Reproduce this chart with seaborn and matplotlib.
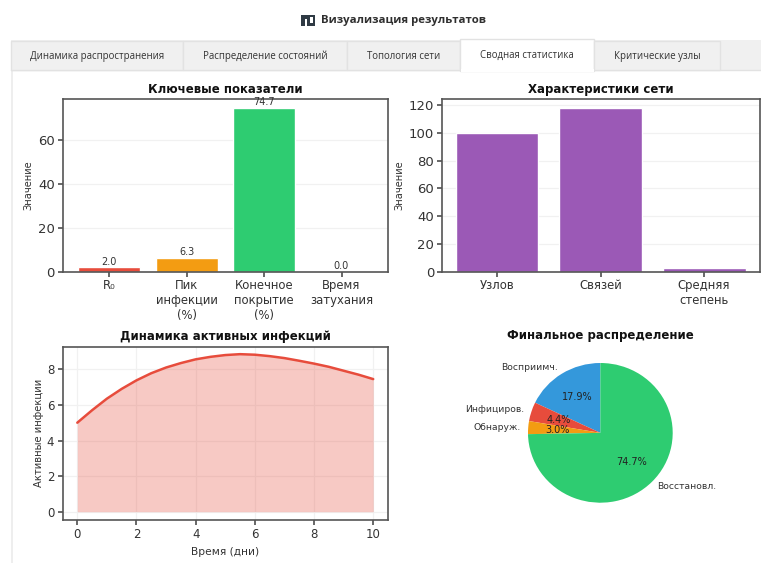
import matplotlib
matplotlib.use("Agg")
import matplotlib.pyplot as plt
from matplotlib.patches import Rectangle
import numpy as np
import pandas as pd
import seaborn as sns

# Key indicators
key_labels = ["R₀", "Пик\nинфекции\n(%)", "Конечное\nпокрытие\n(%)", "Время\nзатухания"]
key_values = [2.0, 6.3, 74.7, 0.0]
key_colors = ["#e74c3c", "#f39c12", "#2ecc71", "#3498db"]

# Network characteristics
net_labels = ["Узлов", "Связей", "Средняя\nстепень"]
net_values = [100, 118, 2.4]
net_color = "#9b59b6"

# Active infections over time
days = [0, 0.5, 1, 1.5, 2, 2.5, 3, 3.5, 4, 4.5, 5, 5.5, 6, 6.5, 7, 7.5, 8, 8.5, 9, 9.5, 10]
active = [5.0, 5.7, 6.35, 6.9, 7.38, 7.78, 8.1, 8.35, 8.56, 8.7, 8.8, 8.85, 8.82, 8.74, 8.63,
          8.48, 8.32, 8.14, 7.92, 7.7, 7.45]

# Final state distribution
pie_labels = ["Восприимч.", "Инфициров.", "Обнаруж.", "Восстановл."]
pie_values = [17.9, 4.4, 3.0, 74.7]
pie_colors = ["#3498db", "#e74c3c", "#f39c12", "#2ecc71"]

tab_names = ["Динамика распространения", "Распределение состояний", "Топология сети",
             "Сводная статистика", "Критические узлы"]
tab_edges = [11, 183, 347, 460, 594, 720]
ACTIVE_TAB = 3

SPINE = "#555555"
TEXT = "#333333"

sns.set_theme(style="whitegrid", rc={"axes.edgecolor": SPINE, "grid.color": "#f1f1f1",
                                     "grid.linewidth": 0.9, "axes.linewidth": 1.2,
                                     "xtick.bottom": True, "ytick.left": True})
plt.rcParams["font.family"] = ["DejaVu Sans"]

W, H = 761, 563
fig = plt.figure(figsize=(W / 100, H / 100), dpi=100, facecolor="white")


def px_axes(left, top, right, bottom, **kw):
    return fig.add_axes([left / W, 1 - bottom / H, (right - left) / W, (bottom - top) / H], **kw)


def style_bar_axes(ax, labels):
    ax.set_xticks(range(len(labels)))
    ax.set_xticklabels(labels, fontsize=8.4, color=TEXT, linespacing=1.2)
    ax.tick_params(axis="y", labelsize=9.5, pad=2, length=3.5, color=SPINE, labelcolor=TEXT)
    ax.tick_params(axis="x", pad=2, length=3.5, color=SPINE)
    ax.set_ylabel("Значение", fontsize=7.1, labelpad=3, color=TEXT)
    ax.set_xlabel("")
    ax.xaxis.grid(False)
    ax.set_axisbelow(True)


# Page furniture: heading and tab strip, in pixel coordinates
page = px_axes(0, 0, W, H)
page.set_xlim(0, W)
page.set_ylim(H, 0)
page.axis("off")
page.add_patch(Rectangle((10.5, 40), 2, 530, fc="#eeeeee", ec="none"))
page.add_patch(Rectangle((11, 40), 750, 30, fc="#f0f0f0", ec="none"))
page.plot([11, 761], [70, 70], color="#e2e2e2", lw=1)
for i, name in enumerate(tab_names):
    x0, x1 = tab_edges[i], tab_edges[i + 1]
    on = i == ACTIVE_TAB
    page.add_patch(Rectangle((x0, 39 if on else 41), x1 - x0, 32 if on else 29,
                             fc="white" if on else "#f0f0f0", ec="#e2e2e2", lw=1, zorder=3))
    if on:
        page.add_patch(Rectangle((x0 + 0.5, 69), x1 - x0 - 1, 3, fc="white", ec="none", zorder=4))
    page.text((x0 + x1) / 2, 55.5 if on else 56.5, name, ha="center", va="center", fontsize=6.95,
              family="Open Sans", color=TEXT, zorder=5)
page.text(321, 20.5, "Визуализация результатов", ha="left", va="center", fontsize=8.2,
          family="Open Sans", fontweight="bold", color="#2f2f2f")
page.add_patch(Rectangle((301, 15), 14, 11, fc="#2f3a44", ec="none"))
for bx, by, bh in [(304.5, 19, 7), (310, 17, 5.5)]:
    page.add_patch(Rectangle((bx, by), 2.5, bh, fc="white", ec="none"))

# Key indicators
ax1 = px_axes(62.5, 99.3, 388, 271.7)
sns.barplot(x=np.arange(len(key_values)), y=key_values, hue=np.arange(len(key_values)),
            palette=key_colors, saturation=1, legend=False, ax=ax1, width=0.8)
ax1.set_ylim(0, 78.5)
ax1.set_xlim(-0.6, 3.6)
ax1.set_yticks([0, 20, 40, 60])
style_bar_axes(ax1, key_labels)
ax1.set_title("Ключевые показатели", fontsize=8.5, fontweight="bold", pad=4.5, color="#111111")
for i, v in enumerate(key_values):
    ax1.text(i, v + 0.2, f"{v:.1f}", ha="center", va="bottom", fontsize=7, color=TEXT)

# Network characteristics
ax2 = px_axes(441.7, 99.3, 760, 271.7)
sns.barplot(x=np.arange(len(net_values)), y=net_values, color=net_color, saturation=1,
            ax=ax2, width=0.8)
ax2.set_xlim(-0.534, 2.54)
ax2.set_ylim(0, 124.1)
ax2.set_yticks([0, 20, 40, 60, 80, 100, 120])
style_bar_axes(ax2, net_labels)
ax2.set_title("Характеристики сети", fontsize=8.5, fontweight="bold", pad=4.5, color="#111111")

# Active infections over time
ax3 = px_axes(62.5, 346.7, 388, 520)
frame = pd.DataFrame({"day": days, "active": active})
sns.lineplot(data=frame, x="day", y="active", color="#e74c3c", lw=1.8, ax=ax3)
ax3.fill_between(days, active, color="#e74c3c", alpha=0.3, lw=0)
ax3.set_xlim(-0.5, 10.5)
ax3.set_ylim(-0.466, 9.27)
ax3.set_xticks([0, 2, 4, 6, 8, 10])
ax3.set_yticks([0, 2, 4, 6, 8])
ax3.tick_params(labelsize=8.5, pad=2.5, length=3.5, color=SPINE, labelcolor=TEXT)
ax3.set_xlabel("Время (дни)", fontsize=7.7, labelpad=4, color=TEXT)
ax3.set_ylabel("Активные инфекции", fontsize=7.2, labelpad=2, color=TEXT)
ax3.set_title("Динамика активных инфекций", fontsize=8.5, fontweight="bold", pad=4.5, color="#111111")

# Final state distribution
ax4 = px_axes(528, 363, 672.7, 502.7)
wedges, texts, autotexts = ax4.pie(pie_values, labels=pie_labels, colors=pie_colors, autopct="%1.1f%%",
                                   startangle=90, labeldistance=1.1, radius=1.0,
                                   textprops={"fontsize": 6.7, "color": TEXT},
                                   wedgeprops={"lw": 0})
for t in autotexts:
    t.set_color("#222222")
    t.set_fontsize(7)
ax4.set_aspect("auto")
ax4.set_xlim(-1, 1)
ax4.set_ylim(-1, 1)
page.text(600, 336, "Финальное распределение", ha="center", va="center", fontsize=8.5,
          fontweight="bold", color="#111111")

fig.savefig("out.png", dpi=100)
